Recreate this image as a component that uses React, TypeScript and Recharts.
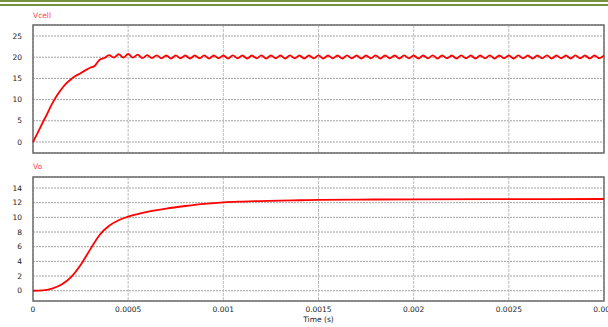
import React from 'react';
import { LineChart, Line, XAxis, YAxis, CartesianGrid, ReferenceArea } from 'recharts';

// Vcell sampled every 25 µs from 0 to 3 ms
const vcellSampleStep = 0.000025;
const vcellValues = [
  0, 2.2, 4.5, 6.7, 9.0, 10.9, 12.5, 13.8, 14.8, 15.6, 16.2, 16.9, 17.5, 18.0, 19.4, 19.8, 20.5,
  19.9, 20.7, 19.9, 20.8, 19.9, 20.6, 19.8, 20.5, 19.8, 20.45,
  19.75, 20.4, 19.7, 20.45, 19.75, 20.4, 19.7, 20.4, 19.75, 20.45, 19.7, 20.4, 19.75, 20.4, 19.7, 20.45, 19.75, 20.4, 19.7, 20.4,
  19.75, 20.45, 19.7, 20.4, 19.75, 20.4, 19.7, 20.45, 19.75, 20.4, 19.7, 20.4, 19.75, 20.45, 19.7, 20.4, 19.75, 20.4, 19.7, 20.45,
  19.75, 20.4, 19.7, 20.4, 19.75, 20.45, 19.7, 20.4, 19.75, 20.4, 19.7, 20.45, 19.75, 20.4, 19.7, 20.4, 19.75, 20.45, 19.7, 20.4,
  19.75, 20.4, 19.7, 20.45, 19.75, 20.4, 19.7, 20.4, 19.75, 20.45, 19.7, 20.4, 19.75, 20.4, 19.7, 20.45, 19.75, 20.4, 19.7, 20.4,
  19.75, 20.45, 19.7, 20.4, 19.75, 20.4, 19.7, 20.45, 19.75, 20.4, 19.7, 20.4, 19.75, 20.4,
];

const voTime = [
  0, 0.00005, 0.0001, 0.00015, 0.0002, 0.00025, 0.0003, 0.00035, 0.0004, 0.00045, 0.0005, 0.00055, 0.0006,
  0.0007, 0.0008, 0.0009, 0.001, 0.0011, 0.0012, 0.0013, 0.0014, 0.0015, 0.0017, 0.002, 0.0024, 0.003,
];
const voValues = [
  0, 0.04, 0.3, 0.85, 1.85, 3.5, 5.6, 7.6, 8.85, 9.6, 10.1, 10.45, 10.75,
  11.2, 11.55, 11.85, 12.05, 12.15, 12.22, 12.28, 12.33, 12.37, 12.42, 12.46, 12.48, 12.5,
];

const timeTicks = [0, 0.0005, 0.001, 0.0015, 0.002, 0.0025, 0.003];
const timeTickLabels = ['0', '0.0005', '0.001', '0.0015', '0.002', '0.0025', '0.003'];
const vcellTicks = [0, 5, 10, 15, 20, 25];
const voTicks = [0, 2, 4, 6, 8, 10, 12, 14];

const vcellDomain: [number, number] = [-2.6, 27.6];
const voDomain: [number, number] = [-1.4, 15.5];
const timeDomain: [number, number] = [0, 0.003];

const vcellData = vcellValues.map((v, i) => ({ t: i * vcellSampleStep, v }));
const voData = voTime.map((t, i) => ({ t, v: voValues[i] }));

const FONT = '"DejaVu Sans", Verdana, sans-serif';
const tickStyle = { fontSize: 7.5, fill: '#222', fontFamily: FONT };
const RED = '#ff0000';

export default function App() {
  return (
    <div style={{ position: 'absolute', left: 0, top: 0, width: 608, height: 327, background: '#fff', overflow: 'hidden', fontFamily: FONT }}>
      <div style={{ position: 'absolute', left: 0, top: 0, width: 608, height: 2, background: '#76923c' }} />
      <div style={{ position: 'absolute', left: 0, top: 3.5, width: 608, height: 2, background: '#76923c' }} />

      <div style={{ position: 'absolute', left: 33, top: 12, fontSize: 7.5, lineHeight: 1, color: '#ff4545' }}>Vcell</div>
      <div style={{ position: 'absolute', left: 33, top: 163, fontSize: 7.5, lineHeight: 1, color: '#ff4545' }}>Vo</div>

      <div style={{ position: 'absolute', left: 0, top: 0 }}>
        <LineChart width={608} height={160} data={vcellData} margin={{ top: 25, right: 4, bottom: 0, left: 0 }}>
          <CartesianGrid vertical={false} stroke="#a0a0a0" strokeDasharray="2 1" />
          <CartesianGrid horizontal={false} stroke="#bdbdbd" strokeDasharray="3 1" />
          <XAxis type="number" dataKey="t" domain={timeDomain} ticks={timeTicks} tick={{ fontSize: 1, fill: 'none' }} tickFormatter={() => ''} axisLine={false} tickLine={false} height={7} interval={0} />
          <YAxis type="number" domain={vcellDomain} ticks={vcellTicks} width={33} tick={tickStyle} tickLine={false} axisLine={false} tickSize={0} tickMargin={11} interval={0} />
          <ReferenceArea x1={timeDomain[0]} x2={timeDomain[1]} y1={vcellDomain[0]} y2={vcellDomain[1]} fill="none" stroke="#6e6e6e" strokeWidth={1.5} fillOpacity={0} />
          <Line type="monotone" dataKey="v" stroke={RED} strokeWidth={1.8} dot={false} isAnimationActive={false} />
        </LineChart>
      </div>

      <div style={{ position: 'absolute', left: 0, top: 160 }}>
        <LineChart width={608} height={167} data={voData} margin={{ top: 17, right: 4, bottom: 0, left: 0 }}>
          <CartesianGrid vertical={false} stroke="#a0a0a0" strokeDasharray="2 1" />
          <CartesianGrid horizontal={false} stroke="#bdbdbd" strokeDasharray="3 1" />
          <XAxis
            type="number"
            dataKey="t"
            domain={timeDomain}
            ticks={timeTicks}
            tickFormatter={(v: number) => timeTickLabels[timeTicks.indexOf(v)] ?? String(v)}
            tick={tickStyle}
            axisLine={false}
            tickLine={false}
            tickSize={0}
            tickMargin={6}
            height={26}
            interval={0}
            label={{ value: 'Time (s)', position: 'insideBottom', offset: 5, style: { fontSize: 7.5, fill: '#222', fontFamily: FONT } }}
          />
          <YAxis type="number" domain={voDomain} ticks={voTicks} width={33} tick={tickStyle} tickLine={false} axisLine={false} tickSize={0} tickMargin={11} interval={0} />
          <ReferenceArea x1={timeDomain[0]} x2={timeDomain[1]} y1={voDomain[0]} y2={voDomain[1]} fill="none" stroke="#6e6e6e" strokeWidth={1.5} fillOpacity={0} />
          <Line type="monotone" dataKey="v" stroke={RED} strokeWidth={1.8} dot={false} isAnimationActive={false} />
        </LineChart>
      </div>
    </div>
  );
}
